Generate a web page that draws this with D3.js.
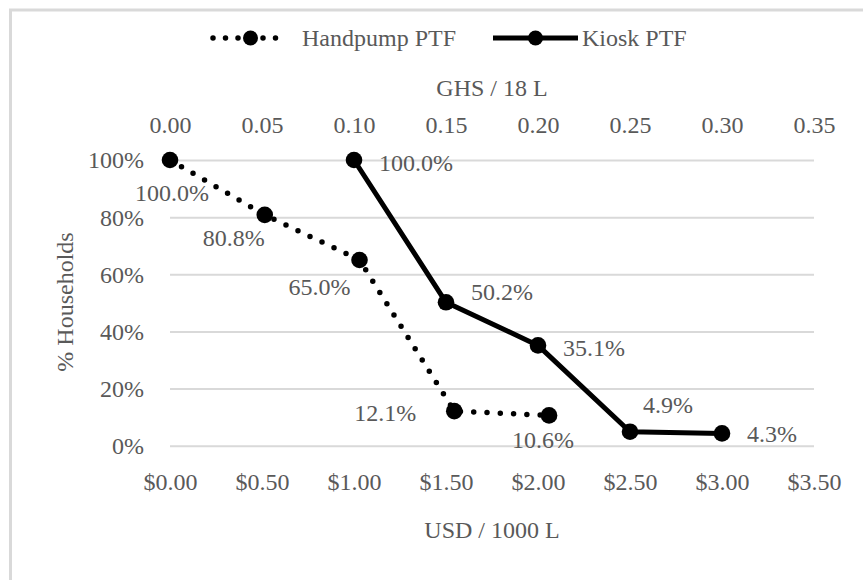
<!DOCTYPE html>
<html>
<head>
<meta charset="utf-8">
<script src="https://cdn.jsdelivr.net/npm/d3@7"></script>
<style>
  html, body { margin: 0; padding: 0; background: #fff; }
  svg { display: block; }
  text { font-family: "Palatino Linotype", "Book Antiqua", Palatino, "Liberation Serif", serif; fill: #595959; }
</style>
</head>
<body>
<svg id="chart" width="863" height="580"></svg>
<script>
// Price per 1000 L (USD) and share of households willing to pay
const usdTicks = [0, 0.5, 1.0, 1.5, 2.0, 2.5, 3.0, 3.5];
const ghsTicks = [0, 0.05, 0.10, 0.15, 0.20, 0.25, 0.30, 0.35];
const pctTicks = [0, 0.2, 0.4, 0.6, 0.8, 1.0];

const handpumpPrice = [0, 0.515, 1.03, 1.545, 2.06];
const handpumpShare = [1.0, 0.808, 0.65, 0.121, 0.106];

const kioskPrice = [1.0, 1.5, 2.0, 2.5, 3.0];
const kioskShare = [1.0, 0.502, 0.351, 0.049, 0.043];

const seriesNames = ["Handpump PTF", "Kiosk PTF"];

// Label placement relative to each marker (layout only)
const handpumpLabelNudge = [[2, 33], [-31, 23], [-40, 27], [-69, 2], [-6, 25]];
const kioskLabelNudge = [[62, 3], [56, -10], [56, 3], [38, -27], [50, 1]];

const svg = d3.select("#chart");
const FONT = 24;

// outer chart frame (runs past the right and bottom edges)
svg.append("rect")
  .attr("x", 10.5).attr("y", 10)
  .attr("width", 900).attr("height", 620)
  .attr("fill", "none").attr("stroke", "#d9d9d9").attr("stroke-width", 3);

const x = d3.scaleLinear().domain([0, 3.5]).range([170, 814]);
const xTop = d3.scaleLinear().domain([0, 0.35]).range([170, 814]);
const y = d3.scaleLinear().domain([0, 1]).range([445.7, 160]);

// gridlines + y tick labels
const gy = svg.append("g").attr("transform", "translate(170,0)")
  .call(d3.axisLeft(y).tickValues(pctTicks).tickFormat(d3.format(".0%"))
    .tickSizeInner(-(814 - 170)).tickSizeOuter(0).tickPadding(26));
gy.select(".domain").remove();
gy.selectAll(".tick line").attr("stroke", "#d9d9d9").attr("stroke-width", 2);
gy.selectAll(".tick text").attr("font-size", FONT).attr("dy", "0.33em")
  .attr("fill", "#595959").style("font-family", null);

// bottom USD axis
const gx = svg.append("g").attr("transform", "translate(0,445.7)")
  .call(d3.axisBottom(x).tickValues(usdTicks).tickFormat(d => "$" + d.toFixed(2))
    .tickSize(0).tickPadding(27));
gx.select(".domain").remove();
gx.selectAll(".tick text").attr("font-size", FONT).attr("dy", "0.71em")
  .attr("fill", "#595959");

// top GHS axis
const gt = svg.append("g").attr("transform", "translate(0,160)")
  .call(d3.axisTop(xTop).tickValues(ghsTicks).tickFormat(d3.format(".2f"))
    .tickSize(0).tickPadding(27));
gt.select(".domain").remove();
gt.selectAll(".tick text").attr("font-size", FONT).attr("fill", "#595959");

svg.selectAll("g.tick text, g text").attr("font-family", null);
svg.selectAll("g").attr("font-family", null);

// axis titles
svg.append("text").attr("x", 492).attr("y", 96).attr("text-anchor", "middle")
  .attr("font-size", FONT).text("GHS / 18 L");
svg.append("text").attr("x", 492).attr("y", 538).attr("text-anchor", "middle")
  .attr("font-size", FONT).text("USD / 1000 L");
svg.append("text").attr("transform", "translate(65,302) rotate(-90)")
  .attr("text-anchor", "middle").attr("dy", "0.33em")
  .attr("font-size", FONT).text("% Households");

const line = d3.line().x(d => x(d[0])).y(d => y(d[1]));
const handpump = handpumpPrice.map((p, i) => [p, handpumpShare[i]]);
const kiosk = kioskPrice.map((p, i) => [p, kioskShare[i]]);

const DOT_DASH = "0 13.3";
const R = 8.3;

// Handpump series: round dotted line
svg.append("path").datum(handpump).attr("d", line)
  .attr("fill", "none").attr("stroke", "#000").attr("stroke-width", 5.5)
  .attr("stroke-linecap", "round").attr("stroke-dasharray", DOT_DASH);
svg.append("g").selectAll("circle").data(handpump).join("circle")
  .attr("cx", d => x(d[0])).attr("cy", d => y(d[1])).attr("r", R).attr("fill", "#000");

// Kiosk series: heavy solid line
svg.append("path").datum(kiosk).attr("d", line)
  .attr("fill", "none").attr("stroke", "#000").attr("stroke-width", 5)
  .attr("stroke-linejoin", "round");
svg.append("g").selectAll("circle").data(kiosk).join("circle")
  .attr("cx", d => x(d[0])).attr("cy", d => y(d[1])).attr("r", R).attr("fill", "#000");

// value labels
const fmt = d3.format(".1%");
function labels(data, nudge) {
  svg.append("g").selectAll("text").data(data).join("text")
    .attr("x", (d, i) => x(d[0]) + nudge[i][0])
    .attr("y", (d, i) => y(d[1]) + nudge[i][1])
    .attr("dy", "0.33em").attr("text-anchor", "middle")
    .attr("font-size", FONT).text(d => fmt(d[1]));
}
labels(handpump, handpumpLabelNudge);
labels(kiosk, kioskLabelNudge);

// legend
const legY = 38;
const leg = svg.append("g");
leg.append("line").attr("x1", 213).attr("x2", 288).attr("y1", legY).attr("y2", legY)
  .attr("stroke", "#000").attr("stroke-width", 5.5).attr("stroke-linecap", "round")
  .attr("stroke-dasharray", "0 12.5");
leg.append("circle").attr("cx", 250.5).attr("cy", legY).attr("r", 7.5).attr("fill", "#000");
leg.append("text").attr("x", 302).attr("y", legY).attr("dy", "0.33em")
  .attr("font-size", FONT).text(seriesNames[0]);
leg.append("line").attr("x1", 493).attr("x2", 578).attr("y1", legY).attr("y2", legY)
  .attr("stroke", "#000").attr("stroke-width", 5);
leg.append("circle").attr("cx", 535.5).attr("cy", legY).attr("r", 7.5).attr("fill", "#000");
leg.append("text").attr("x", 582).attr("y", legY).attr("dy", "0.33em")
  .attr("font-size", FONT).text(seriesNames[1]);
</script>
</body>
</html>
